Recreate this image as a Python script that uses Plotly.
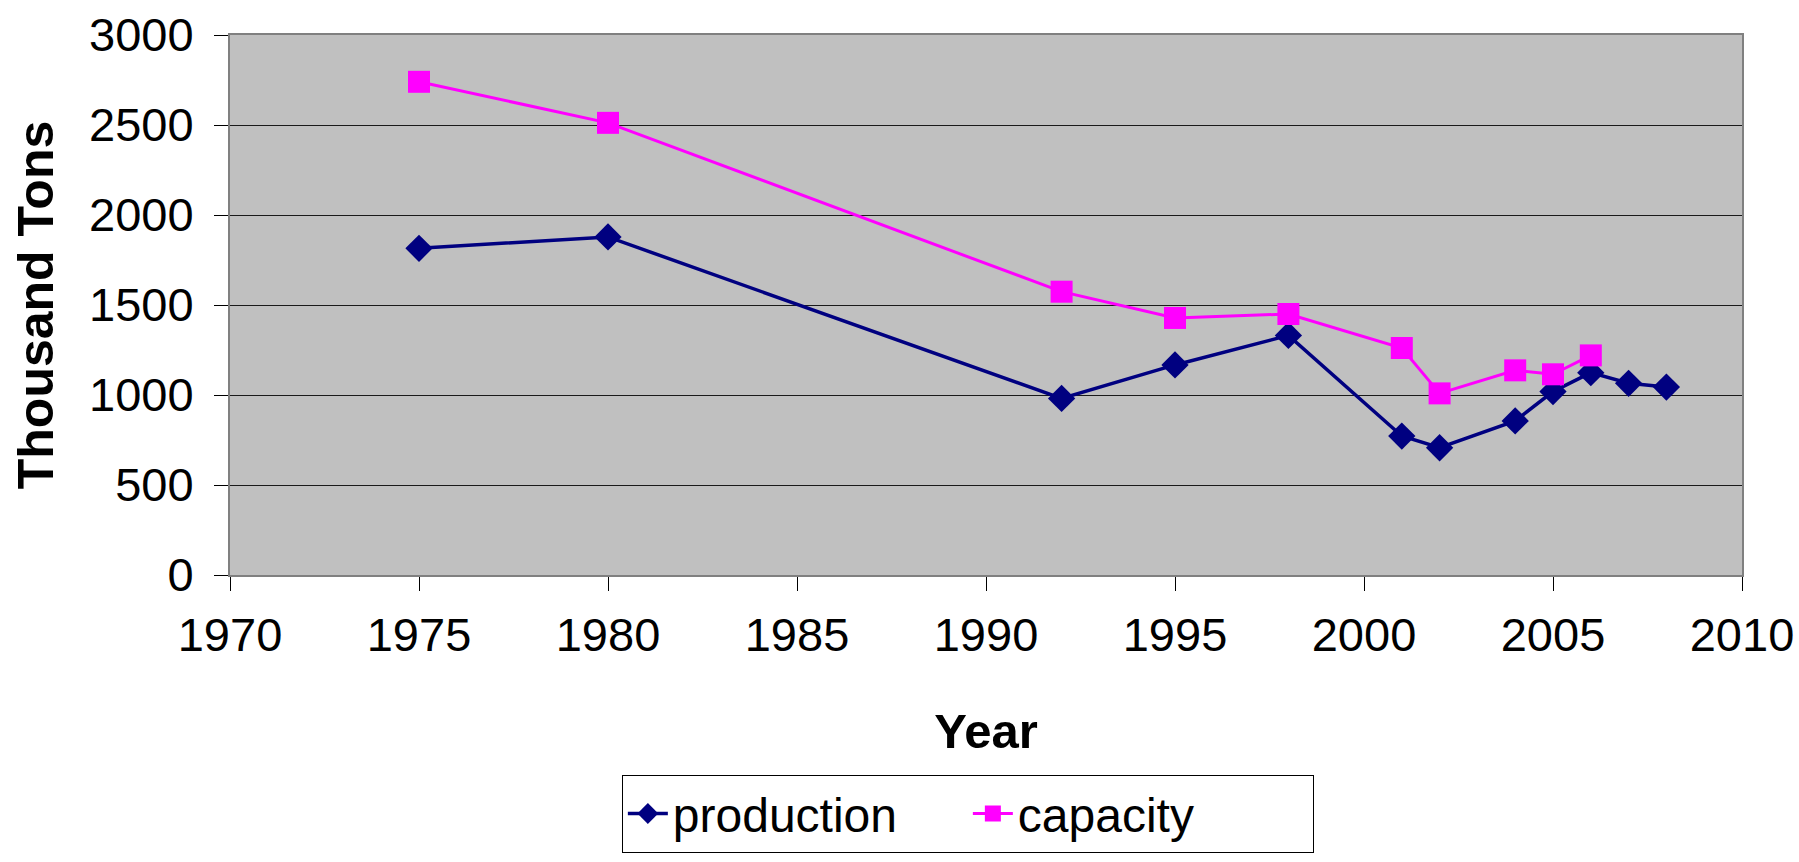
import plotly.graph_objects as go

prod_years = [1975, 1980, 1992, 1995, 1998, 2001, 2002, 2004, 2005, 2006, 2007, 2008]
production = [1815, 1878, 981, 1167, 1331, 772, 707, 856, 1019, 1124, 1065, 1044]

cap_years = [1975, 1980, 1992, 1995, 1998, 2001, 2002, 2004, 2005, 2006]
capacity = [2740, 2512, 1574, 1428, 1450, 1261, 1009, 1137, 1115, 1220]

x_ticks = [1970, 1975, 1980, 1985, 1990, 1995, 2000, 2005, 2010]
y_ticks = [0, 500, 1000, 1500, 2000, 2500, 3000]

FONT = "Liberation Sans, Arial, sans-serif"

fig = go.Figure()
fig.add_trace(go.Scatter(
    x=prod_years, y=production, name="production", mode="lines+markers",
    line=dict(color="#000080", width=3.5),
    marker=dict(symbol="diamond", size=21, color="#000080"),
))
fig.add_trace(go.Scatter(
    x=cap_years, y=capacity, name="capacity", mode="lines+markers",
    line=dict(color="#FF00FF", width=3),
    marker=dict(symbol="square", size=22, color="#FF00FF"),
))

fig.update_layout(
    width=1799, height=862,
    margin=dict(l=230, r=57, t=35, b=287, autoexpand=False),
    paper_bgcolor="white",
    plot_bgcolor="#C0C0C0",
    font=dict(family=FONT, size=47, color="black"),
    showlegend=True,
    legend=dict(
        orientation="h",
        x=0.488, xanchor="center",
        y=-0.37, yanchor="top",
        bgcolor="white",
        bordercolor="black", borderwidth=1,
        font=dict(size=48, family=FONT),
        itemwidth=40,
        entrywidth=290,
        tracegroupgap=0,
    ),
    xaxis=dict(
        range=[1970, 2010],
        tickvals=x_ticks,
        ticks="outside", ticklen=14, tickcolor="black", tickwidth=1,
        showgrid=False, zeroline=False,
        showline=True, linecolor="#808080", linewidth=2, mirror=True,
        ticklabelstandoff=4,
        automargin=False,
        title=dict(text="<b>Year</b>", font=dict(size=49, family=FONT), standoff=53),
    ),
    yaxis=dict(
        range=[0, 3000],
        tickvals=y_ticks,
        ticks="outside", ticklen=14, tickcolor="black", tickwidth=1,
        showgrid=True, gridcolor="#1a1a1a", gridwidth=1,
        zeroline=False,
        showline=True, linecolor="#808080", linewidth=2, mirror=True,
        ticklabelstandoff=11,
        automargin=False,
        title=dict(text="<b>Thousand Tons</b>", font=dict(size=50, family=FONT), standoff=20),
    ),
)

fig.write_html(
    "out.html",
    config={"displayModeBar": False},
    post_script="document.body.style.margin='0';document.body.style.overflow='hidden';",
)
